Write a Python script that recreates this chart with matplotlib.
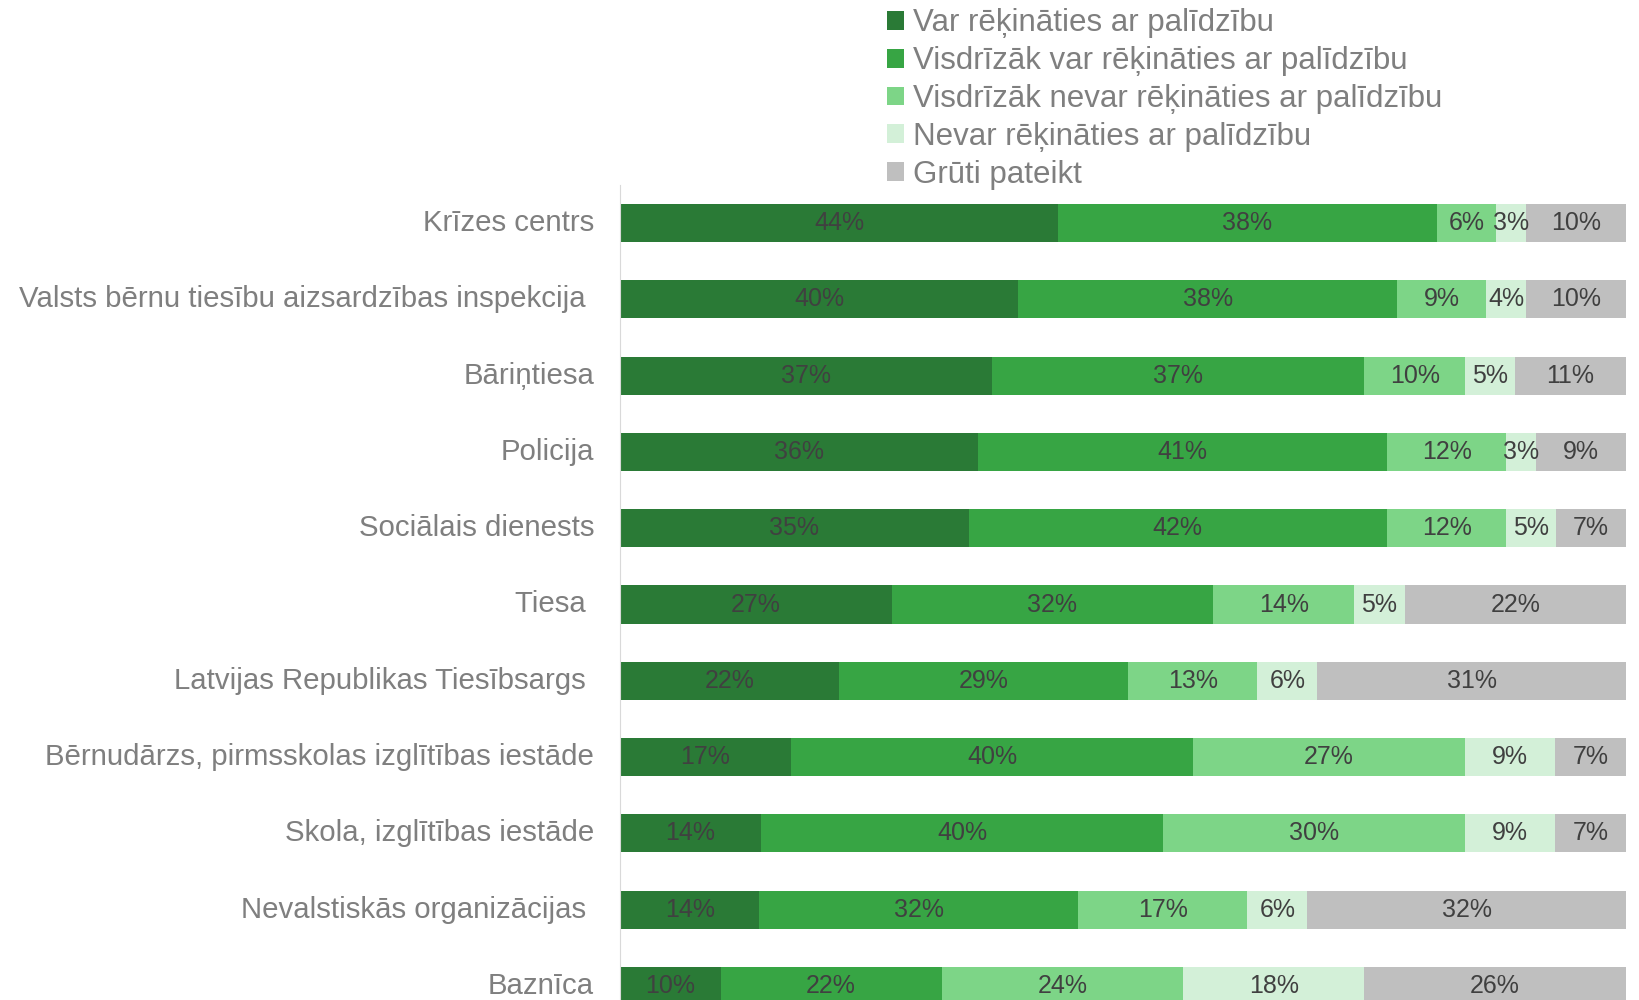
import numpy as np
import matplotlib
matplotlib.use("Agg")
from matplotlib import pyplot as plt

plt.rcParams["font.family"] = ["Liberation Sans", "DejaVu Sans"]

categories = [
    "Krīzes centrs",
    "Valsts bērnu tiesību aizsardzības inspekcija ",
    "Bāriņtiesa",
    "Policija",
    "Sociālais dienests",
    "Tiesa ",
    "Latvijas Republikas Tiesībsargs ",
    "Bērnudārzs, pirmsskolas izglītības iestāde",
    "Skola, izglītības iestāde",
    "Nevalstiskās organizācijas ",
    "Baznīca",
]
series_names = [
    "Var rēķināties ar palīdzību",
    "Visdrīzāk var rēķināties ar palīdzību",
    "Visdrīzāk nevar rēķināties ar palīdzību",
    "Nevar rēķināties ar palīdzību",
    "Grūti pateikt",
]
var_pal = [44, 40, 37, 36, 35, 27, 22, 17, 14, 14, 10]
visdr_var = [38, 38, 37, 41, 42, 32, 29, 40, 40, 32, 22]
visdr_nevar = [6, 9, 10, 12, 12, 14, 13, 27, 30, 17, 24]
nevar = [3, 4, 5, 3, 5, 5, 6, 9, 9, 6, 18]
gruti = [10, 10, 11, 9, 7, 22, 31, 7, 7, 32, 26]

colors = ["#2a7a36", "#37a544", "#7dd587", "#d3f0d8", "#bfbfbf"]

values = np.array([var_pal, visdr_var, visdr_nevar, nevar, gruti], dtype=float)
# 100% stacked: each row scaled to its own total
shares = values / values.sum(axis=0) * 100

fig = plt.figure(figsize=(16.4, 10), dpi=100)
ax = fig.add_axes([0.378, -0.024, 0.6134, 0.839])

y = np.arange(len(categories))
left = np.zeros(len(categories))
handles = []
for k in range(len(series_names)):
    bars = ax.barh(y, shares[k], left=left, height=0.5, color=colors[k],
                   label=series_names[k])
    handles.append(bars)
    for i in range(len(categories)):
        ax.text(left[i] + shares[k][i] / 2, y[i], f"{int(values[k][i])}%",
                ha="center", va="center", fontsize=18, color="#404040")
    left += shares[k]

ax.set_xlim(0, 100)
ax.set_ylim(len(categories) - 0.5, -0.5)
ax.set_yticks(y)
ax.set_yticklabels(categories, fontsize=21.2, color="#7f7f7f")
for lbl in ax.get_yticklabels():
    lbl.set_va("center")
ax.tick_params(axis="y", length=0, pad=18.5)
ax.set_xticks([])
for s in ["top", "right", "bottom"]:
    ax.spines[s].set_visible(False)
ax.spines["left"].set_color("#d9d9d9")

fig.legend(handles=handles, loc="upper left", bbox_to_anchor=(0.533, 1.004),
           frameon=False, fontsize=22.5, labelcolor="#7f7f7f",
           handlelength=0.55, handleheight=0.55, handletextpad=0.3,
           labelspacing=0.25, borderaxespad=0)

fig.savefig("out.png", dpi=100)
